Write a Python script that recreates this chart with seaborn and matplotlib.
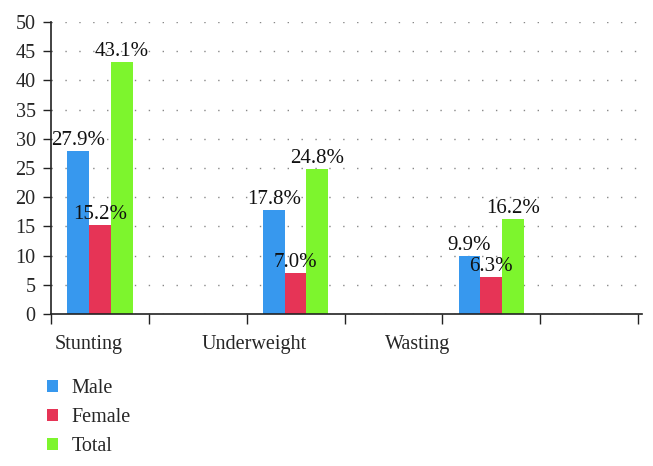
import matplotlib
matplotlib.use("Agg")
import matplotlib.pyplot as plt
import seaborn as sns
import pandas as pd
import numpy as np
from matplotlib.patches import Patch

categories = ["Stunting", "Underweight", "Wasting"]
series = ["Male", "Female", "Total"]
male = [27.9, 17.8, 9.9]
female = [15.2, 7.0, 6.3]
total = [43.1, 24.8, 16.2]
colors = ["#3798EE", "#E63456", "#7DF52D"]

rows = []
for s, vals in zip(series, [male, female, total]):
    for c, v in zip(categories, vals):
        rows.append({"category": c, "series": s, "value": v})
df = pd.DataFrame(rows)

sns.set_style("white")
plt.rcParams["font.family"] = ["Liberation Serif", "DejaVu Serif"]

fig = plt.figure(figsize=(6.53, 4.66), dpi=100)
ax = fig.add_axes([51/653, 1-314/466, 591/653, 292/466])

sns.barplot(data=df, x="category", y="value", hue="series", order=categories,
            hue_order=series, palette=colors, width=0.333, gap=0, linewidth=0,
            saturation=1, ax=ax, legend=False)

for cont in ax.containers:
    ax.bar_label(cont, labels=[f"{v:.1f}%" for v in cont.datavalues],
                 padding=1, fontsize=15, color="#111111")

ax.set_ylim(0, 50)
ax.set_xlim(-0.25, 2.77)
ax.set_yticks(np.arange(0, 51, 5))
ax.yaxis.grid(True, linestyle=(0, (1, 9)), color="#888888", linewidth=1)
ax.set_axisbelow(True)

ax.set_xticks([-0.056, 0.787, 1.625])
ax.set_xticklabels(categories)
ax.set_xticks(np.arange(-0.25, 2.8, 0.5), minor=True)
ax.tick_params(axis="x", which="major", length=0, pad=15, labelsize=14.5)
ax.tick_params(axis="x", which="minor", length=7, width=1, color="#222222", bottom=True)
ax.tick_params(axis="y", length=6, width=1, color="#222222", labelsize=14.5, pad=5, left=True)
ax.set_xlabel("")
ax.set_ylabel("")
for side in ["top", "right"]:
    ax.spines[side].set_visible(False)
for side in ["left", "bottom"]:
    ax.spines[side].set_color("#222222")
    ax.spines[side].set_linewidth(1.2)

handles = [Patch(facecolor=c, edgecolor="none", label=s) for c, s in zip(colors, series)]
fig.legend(handles=handles, loc="upper left", bbox_to_anchor=(29/653, 1-361/466),
           frameon=False, fontsize=14.5, handlelength=0.55, handleheight=0.55,
           handletextpad=0.65, labelspacing=0.5)

fig.savefig("out.png", dpi=100)
